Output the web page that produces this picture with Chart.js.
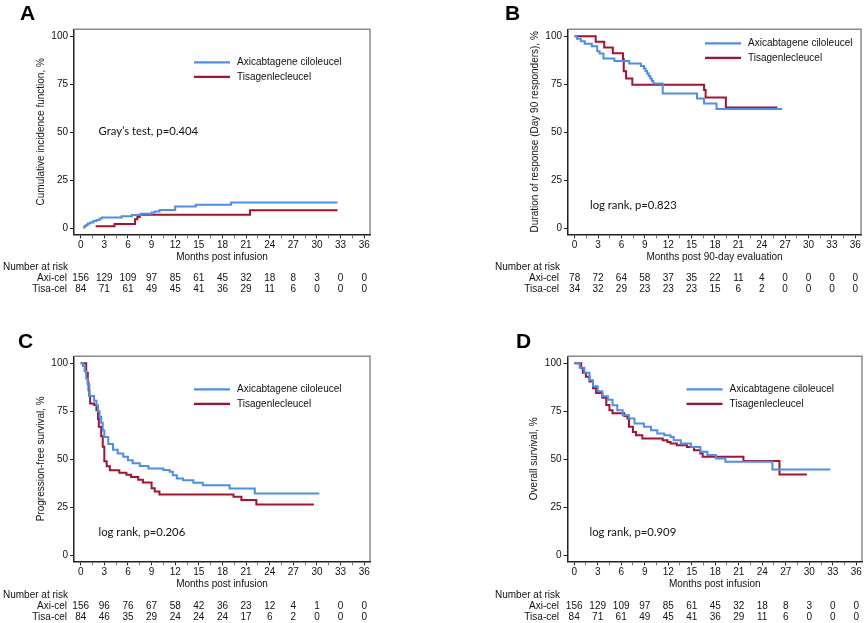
<!DOCTYPE html>
<html>
<head>
<meta charset="utf-8">
<script src="https://cdn.jsdelivr.net/npm/chart.js@4.4.1/dist/chart.umd.min.js"></script>
<style>
  body { margin: 0; background: #fff; width: 866px; height: 623px; position: relative; overflow: hidden; }
  canvas { position: absolute; }
</style>
</head>
<body>
<canvas id="panelA" width="433" height="310" style="left:0;top:0"></canvas>
<canvas id="panelB" width="433" height="310" style="left:433px;top:0"></canvas>
<canvas id="panelC" width="433" height="296" style="left:0;top:327px"></canvas>
<canvas id="panelD" width="433" height="296" style="left:433px;top:327px"></canvas>
<script>
// ---- data (months, %) ----
const xTickValues = [0, 1.5, 3, 4.5, 6, 7.5, 9, 10.5, 12, 13.5, 15, 16.5, 18, 19.5, 21, 22.5, 24, 25.5, 27, 28.5, 30, 31.5, 33, 34.5, 36];
const yTickValues = [0, 25, 50, 75, 100];
const riskMonths = [0, 3, 6, 9, 12, 15, 18, 21, 24, 27, 30, 33, 36];

// A: cumulative incidence
const cifAxiMonths = [0.3, 0.5, 0.7, 0.9, 1.2, 1.6, 2.0, 2.4, 2.7, 5.2, 6.5, 7.6, 9.0, 9.4, 10.0, 12.0, 14.6, 19.1, 32.6];
const cifAxiPct    = [0.6, 1.3, 1.9, 2.6, 3.2, 3.9, 4.5, 5.2, 5.8, 6.4, 7.1, 7.7, 8.3, 8.9, 9.6, 11.4, 12.4, 13.6, 13.6];
const cifTisaMonths = [1.9, 4.3, 6.9, 7.2, 7.5, 21.5, 32.6];
const cifTisaPct    = [1.2, 2.4, 4.8, 6.0, 7.2, 9.5, 9.5];
const cifRiskAxi  = [156, 129, 109, 97, 85, 61, 45, 32, 18, 8, 3, 0, 0];
const cifRiskTisa = [84, 71, 61, 49, 45, 41, 36, 29, 11, 6, 0, 0, 0];

// B: duration of response
const dorAxiMonths = [0, 0.3, 0.8, 1.3, 2.2, 2.9, 3.2, 3.7, 5.1, 7.0, 8.5, 8.9, 9.1, 9.3, 9.5, 9.7, 9.9, 10.1, 11.3, 15.7, 16.6, 18.2, 26.6];
const dorAxiPct    = [100, 98.7, 97.4, 96.1, 94.8, 92.2, 91.0, 88.4, 87.1, 85.8, 84.5, 83.2, 81.9, 80.6, 79.3, 78.0, 76.7, 75.4, 70.2, 67.6, 65.0, 62.2, 62.2];
const dorTisaMonths = [0, 2.7, 3.8, 4.9, 6.2, 6.3, 6.6, 7.4, 16.6, 16.8, 19.4, 26.0];
const dorTisaPct    = [100, 97.1, 94.1, 91.2, 88.2, 81.8, 78.0, 74.8, 72.0, 68.2, 63.0, 63.0];
const dorRiskAxi  = [78, 72, 64, 58, 37, 35, 22, 11, 4, 0, 0, 0, 0];
const dorRiskTisa = [34, 32, 29, 23, 23, 23, 15, 6, 2, 0, 0, 0, 0];

// C: progression-free survival
const pfsAxiMonths = [0, 0.3, 0.5, 0.7, 0.9, 1.1, 1.7, 2.0, 2.2, 2.4, 2.6, 2.8, 3.0, 3.5, 4.1, 4.7, 5.4, 6.0, 6.6, 7.5, 8.6, 10.5, 11.3, 11.7, 12.2, 13.0, 14.3, 15.5, 18.9, 22.1, 30.3];
const pfsAxiPct    = [100, 98.5, 96, 92, 89, 83, 80.5, 78, 75, 72, 69, 65, 61.6, 58, 55, 53, 51.4, 49.6, 48, 46.5, 45.3, 44.5, 43.6, 41.8, 40.1, 39.2, 37.8, 36.6, 34.9, 32.3, 32.3];
const pfsTisaMonths = [0, 0.7, 0.9, 1.0, 1.1, 1.2, 1.7, 2.0, 2.2, 2.3, 2.6, 2.8, 3.0, 3.3, 3.7, 4.9, 5.8, 6.4, 7.3, 7.9, 9.0, 9.4, 10.0, 19.4, 20.4, 22.3, 29.6];
const pfsTisaPct    = [100, 95, 90, 86, 83, 79, 78.3, 75.6, 71, 67, 62, 56.6, 49, 46.4, 44.3, 43, 42, 40.8, 39.4, 38, 35, 33.3, 31.8, 30.6, 28.9, 26.6, 26.6];
const pfsRiskAxi  = [156, 96, 76, 67, 58, 42, 36, 23, 12, 4, 1, 0, 0];
const pfsRiskTisa = [84, 46, 35, 29, 24, 24, 24, 17, 6, 2, 0, 0, 0];

// D: overall survival
const osAxiMonths = [0, 0.7, 1.3, 1.95, 2.4, 3.0, 3.6, 4.3, 4.9, 5.5, 6.2, 7.0, 7.7, 8.9, 9.8, 10.6, 11.5, 12.3, 12.7, 13.6, 14.9, 16.1, 17.0, 18.1, 19.3, 25.3, 32.7];
const osAxiPct    = [100, 97.6, 95, 91.2, 88, 85.4, 82.8, 81, 78.2, 75.6, 73, 71.3, 68.7, 67, 65.2, 63.5, 62.6, 61.7, 60, 58.3, 56.5, 54, 52.3, 50.5, 48.8, 44.8, 44.8];
const osTisaMonths = [0, 0.9, 1.1, 1.5, 1.95, 2.4, 2.8, 3.6, 4.1, 4.5, 4.9, 6.4, 6.8, 7.0, 7.5, 7.9, 8.7, 11.3, 11.9, 12.3, 13.1, 14.4, 15.3, 16.1, 16.4, 21.6, 26.2, 29.7];
const osTisaPct    = [100, 97.5, 95, 93, 90.5, 87, 84.5, 82, 78.3, 75.6, 74, 72.5, 71.3, 67, 64.3, 62.6, 60.9, 60.0, 59, 58.3, 57.4, 56.5, 54.8, 53.1, 51.4, 49.1, 42.2, 42.2];
const osRiskAxi  = [156, 129, 109, 97, 85, 61, 45, 32, 18, 8, 3, 0, 0];
const osRiskTisa = [84, 71, 61, 49, 45, 41, 36, 29, 11, 6, 0, 0, 0];

const BLUE = "#4a8ff2";
const RED = "#a6122f";
const INK = "#111";
const STATA_FONT = '"Liberation Sans", Arial, sans-serif';
const NOTE_FONT = 'Lato, "Open Sans", sans-serif';

function pairs(xs, ys) {
  return xs.map((x, i) => ({ x: x, y: ys[i] }));
}

// frame, panel letter, legend, note and number-at-risk table
const panelExtras = {
  id: "panelExtras",
  afterDraw(chart, args, cfg) {
    const { ctx, chartArea: a } = chart;
    const xs = chart.scales.x;
    ctx.save();

    // gray top/right frame
    ctx.strokeStyle = "#8a8a8a";
    ctx.lineWidth = 1.5;
    ctx.beginPath();
    ctx.moveTo(a.left, a.top);
    ctx.lineTo(a.right, a.top);
    ctx.lineTo(a.right, a.bottom);
    ctx.stroke();

    // panel letter
    ctx.fillStyle = "#000";
    ctx.font = 'bold 21px "Liberation Sans", Arial, sans-serif';
    ctx.textAlign = "left";
    ctx.textBaseline = "middle";
    ctx.fillText(cfg.letter, cfg.letterX, cfg.letterY);

    // legend
    ctx.font = "10px " + STATA_FONT;
    ctx.fillStyle = INK;
    chart.data.datasets.forEach((ds, i) => {
      const lx = a.left + cfg.legendDx;
      const ly = a.top + cfg.legendDy + i * 14.5;
      ctx.strokeStyle = ds.borderColor;
      ctx.lineWidth = 2.2;
      ctx.beginPath();
      ctx.moveTo(lx, ly);
      ctx.lineTo(lx + 36, ly);
      ctx.stroke();
      ctx.fillText(ds.label, lx + 43, ly);
    });

    // test annotation
    ctx.font = "11.3px " + NOTE_FONT;
    ctx.fillText(cfg.note, a.left + cfg.noteDx, cfg.noteY);

    // number at risk
    ctx.font = "10px " + STATA_FONT;
    ctx.fillText("Number at risk", cfg.riskLabelX, cfg.riskY);
    ctx.textAlign = "right";
    ctx.fillText("Axi-cel", cfg.rowLabelRight, cfg.riskY + 11.3);
    ctx.fillText("Tisa-cel", cfg.rowLabelRight, cfg.riskY + 22.3);
    ctx.textAlign = "center";
    riskMonths.forEach((m, i) => {
      const px = xs.getPixelForValue(m);
      ctx.fillText(String(cfg.riskAxi[i]), px, cfg.riskY + 11.3);
      ctx.fillText(String(cfg.riskTisa[i]), px, cfg.riskY + 22.3);
    });
    ctx.restore();
  }
};

function makePanel(id, cfg) {
  const canvas = document.getElementById(id);
  const tickFont = { family: STATA_FONT, size: 10 };
  return new Chart(canvas, {
    type: "line",
    data: {
      datasets: [
        { label: "Axicabtagene ciloleucel", data: pairs(cfg.axiT, cfg.axiV), borderColor: BLUE },
        { label: "Tisagenlecleucel", data: pairs(cfg.tisaT, cfg.tisaV), borderColor: RED }
      ]
    },
    options: {
      responsive: false,
      animation: false,
      devicePixelRatio: 1,
      layout: { padding: { left: cfg.plotLeft - 39, right: canvas.width - cfg.plotRight, top: 29.3, bottom: canvas.height - 263 } },
      elements: {
        point: { radius: 0 },
        line: { borderWidth: 2, stepped: true, tension: 0, fill: false }
      },
      plugins: {
        legend: { display: false },
        tooltip: { enabled: false },
        panelExtras: cfg
      },
      scales: {
        x: {
          type: "linear",
          min: -0.85,
          max: 36.73,
          afterBuildTicks: s => { s.ticks = xTickValues.map(v => ({ value: v })); },
          afterFit: s => { s.height = 28.7; },
          ticks: {
            autoSkip: false,
            maxRotation: 0,
            padding: 1,
            color: INK,
            font: tickFont,
            callback: v => (v % 3 === 0 ? String(v) : "")
          },
          grid: {
            drawOnChartArea: false,
            tickLength: 4,
            tickColor: c => (c.tick && c.tick.value % 3 === 0 ? "#222" : "#777"),
            tickWidth: 1
          },
          border: { color: "#222", width: 1.5 },
          title: { display: true, text: cfg.xTitle, color: INK, font: tickFont, padding: 0 }
        },
        y: {
          min: -3,
          max: 103.6,
          afterBuildTicks: s => { s.ticks = yTickValues.map(v => ({ value: v })); },
          afterFit: s => { s.width = 39; },
          ticks: { padding: 2, color: INK, font: tickFont },
          grid: { drawOnChartArea: false, tickLength: 4, tickColor: "#222" },
          border: { color: "#222", width: 1.5 },
          title: { display: true, text: cfg.yTitle, color: INK, font: tickFont, padding: 0 }
        }
      }
    },
    plugins: [panelExtras]
  });
}

makePanel("panelA", {
  axiT: cifAxiMonths, axiV: cifAxiPct, tisaT: cifTisaMonths, tisaV: cifTisaPct,
  riskAxi: cifRiskAxi, riskTisa: cifRiskTisa,
  xTitle: "Months post infusion", yTitle: "Cumulative incidence function, %",
  plotLeft: 74, plotRight: 370,
  letter: "A", letterX: 20, letterY: 14,
  legendDx: 120, legendDy: 33,
  note: "Gray\u2019s test, p=0.404", noteDx: 24.5, noteY: 131,
  riskLabelX: 3, rowLabelRight: 67, riskY: 267
});

makePanel("panelB", {
  axiT: dorAxiMonths, axiV: dorAxiPct, tisaT: dorTisaMonths, tisaV: dorTisaPct,
  riskAxi: dorRiskAxi, riskTisa: dorRiskTisa,
  xTitle: "Months post 90-day evaluation", yTitle: "Duration of response (Day 90 responders), %",
  plotLeft: 135, plotRight: 428,
  letter: "B", letterX: 72, letterY: 14,
  legendDx: 137, legendDy: 14,
  note: "log rank, p=0.823", noteDx: 22, noteY: 205,
  riskLabelX: 62, rowLabelRight: 126, riskY: 267
});

makePanel("panelC", {
  axiT: pfsAxiMonths, axiV: pfsAxiPct, tisaT: pfsTisaMonths, tisaV: pfsTisaPct,
  riskAxi: pfsRiskAxi, riskTisa: pfsRiskTisa,
  xTitle: "Months post infusion", yTitle: "Progression-free survival, %",
  plotLeft: 74, plotRight: 370,
  letter: "C", letterX: 18, letterY: 15,
  legendDx: 120, legendDy: 33,
  note: "log rank, p=0.206", noteDx: 24.5, noteY: 205,
  riskLabelX: 3, rowLabelRight: 67, riskY: 268
});

makePanel("panelD", {
  axiT: osAxiMonths, axiV: osAxiPct, tisaT: osTisaMonths, tisaV: osTisaPct,
  riskAxi: osRiskAxi, riskTisa: osRiskTisa,
  xTitle: "Months post infusion", yTitle: "Overall survival, %",
  plotLeft: 134.5, plotRight: 429,
  letter: "D", letterX: 83, letterY: 15,
  legendDx: 119, legendDy: 33,
  note: "log rank, p=0.909", noteDx: 22, noteY: 205,
  riskLabelX: 62, rowLabelRight: 126, riskY: 268
});
</script>
</body>
</html>
